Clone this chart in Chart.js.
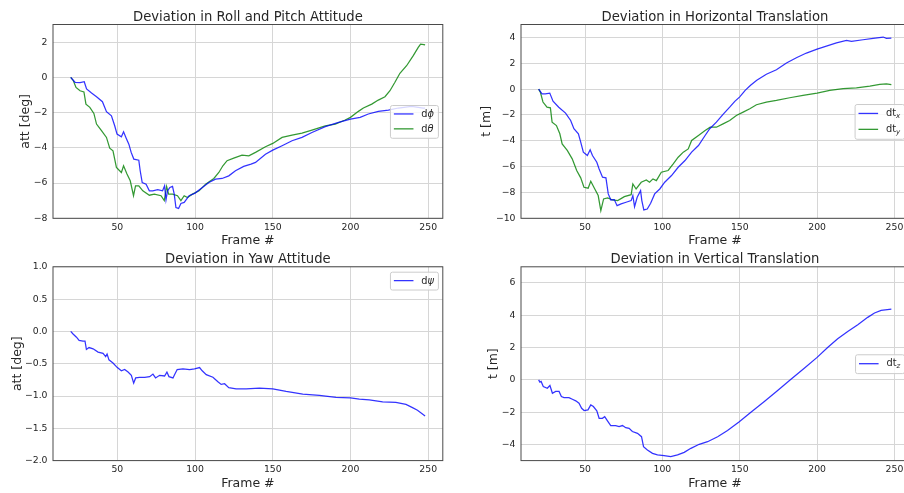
<!DOCTYPE html>
<html>
<head>
<meta charset="utf-8">
<script src="https://cdn.jsdelivr.net/npm/chart.js@4.4.1/dist/chart.umd.min.js"></script>
<style>
html,body{margin:0;padding:0;background:#fff;overflow:hidden;width:904px;height:493px;}
#wrap{position:relative;width:904px;height:493px;overflow:hidden;background:#fff;}
canvas{position:absolute;}
</style>
</head>
<body>
<div id="wrap">
<canvas id="c1" width="452" height="248" style="left:0px;top:0px"></canvas>
<canvas id="c2" width="470" height="248" style="left:452px;top:0px"></canvas>
<canvas id="c3" width="452" height="248" style="left:0px;top:245px"></canvas>
<canvas id="c4" width="470" height="248" style="left:452px;top:245px"></canvas>
</div>
<script>
// ---------- data ----------
const frameTicks = [50, 100, 150, 200, 250];
const rollPitchTicks = [-8, -6, -4, -2, 0, 2];
const horizTicks = [-10, -8, -6, -4, -2, 0, 2, 4];
const yawTicks = [-2.0, -1.5, -1.0, -0.5, 0.0, 0.5, 1.0];
const vertTicks = [-4, -2, 0, 2, 4, 6];

const rollFrames = [20,22.8,26,28.7,30.2,33.4,36.6,40.4,43,46.2,48.3,49.8,52.6,54,55.7,57.4,58.9,60.6,63.8,64.7,66,68.5,70.6,72.8,76,79.1,80.4,81.3,82.3,83.8,85.5,86.6,87.7,89.4,90.9,93,96.2,100,104.7,108.9,113.2,117.4,121.7,126,131.3,136,138.9,145.3,150,156,162.4,168.8,175.2,183.8,192.3,200,206.2,211.5,217.9,224.4,230.8,239.3,246.8,248];
const rollDev = [0,-0.28,-0.30,-0.25,-0.66,-0.89,-1.10,-1.38,-1.95,-2.18,-2.75,-3.22,-3.37,-3.09,-3.45,-3.79,-4.26,-4.64,-4.70,-5.30,-5.97,-6.06,-6.44,-6.44,-6.38,-6.44,-6.16,-6.95,-6.44,-6.25,-6.19,-6.63,-7.39,-7.44,-7.16,-7.10,-6.72,-6.57,-6.25,-5.97,-5.78,-5.74,-5.59,-5.30,-5.05,-4.92,-4.83,-4.36,-4.13,-3.88,-3.60,-3.41,-3.13,-2.80,-2.56,-2.37,-2.27,-2.08,-1.93,-1.86,-1.74,-1.65,-1.74,-1.75];

const pitchFrames = [20,21.7,23.4,26,28.5,29.8,32.3,34.9,36.6,39.8,43,45.1,47.2,49.4,52.6,54,56.2,58.3,60.4,61.7,63.8,66.4,70.6,73.8,78.1,80.2,81.7,83,85.5,88.7,90.9,93,95.1,98.3,102.6,106.8,112.1,115.3,117.9,120.6,124.9,130.2,134.6,138.9,145.3,150,156,162.4,168.8,175.2,183.8,190.2,196.6,200,205.1,208.3,213.7,217.9,222.2,225.4,228.6,231.8,236.1,240.4,243.6,245.1,247.2,248];
const pitchDev = [0,-0.19,-0.57,-0.76,-0.83,-1.52,-1.70,-2.05,-2.65,-3.03,-3.41,-4.02,-4.17,-5.11,-5.40,-5.02,-5.49,-5.87,-6.72,-6.16,-6.16,-6.44,-6.69,-6.63,-6.72,-7.00,-6.19,-6.63,-6.63,-6.72,-7.00,-6.72,-6.82,-6.63,-6.44,-6.06,-5.74,-5.40,-5.02,-4.73,-4.58,-4.41,-4.45,-4.26,-3.94,-3.75,-3.41,-3.28,-3.16,-2.99,-2.75,-2.65,-2.42,-2.27,-1.93,-1.74,-1.52,-1.29,-1.10,-0.76,-0.28,0.23,0.66,1.23,1.70,1.89,1.86,1.84];

const txFrames = [20,22.2,24.3,27.2,29.3,33,37.4,40.7,42.8,45.7,47.2,48.9,51.5,53.3,54.8,57.6,59.1,61.3,63.5,65,66.7,68.9,70.7,73.3,76.5,79.8,80.9,82,83.7,85.9,86.7,88,90.2,92.4,95,98.3,101.5,105.9,110.2,114.6,118.9,123.3,127.6,130.6,134.9,139.2,143.5,146.8,150,153.5,157,161,167.2,173.7,180.2,186.6,193.1,200,206,212.5,219,222.2,229.7,236.2,242.7,244.8,248];
const txDev = [0,-0.36,-0.36,-0.31,-0.93,-1.40,-1.86,-2.43,-3.07,-3.46,-4.10,-4.88,-5.14,-4.70,-5.14,-5.66,-6.18,-6.82,-6.87,-8.11,-8.58,-8.55,-9.02,-8.89,-8.76,-8.63,-8.24,-9.10,-8.37,-7.86,-8.63,-9.35,-9.28,-8.84,-8.11,-7.73,-7.21,-6.69,-6.05,-5.53,-4.88,-4.37,-3.59,-3.07,-2.56,-1.96,-1.40,-0.95,-0.60,-0.10,0.30,0.68,1.15,1.50,2.02,2.43,2.79,3.10,3.33,3.57,3.77,3.70,3.82,3.93,4.03,3.93,3.95];

const tyFrames = [20,21.1,22.8,25.4,27.6,28.7,31.5,33.7,35.2,38.5,41.7,44.6,47.2,49.3,52,53.7,56.3,58.5,60.2,62,64.6,67.8,71.1,75.4,79.8,80.9,83,86.3,89.6,91.7,93.9,96.1,99.3,103.7,107,110.2,113.5,116.7,118.9,123.3,127.6,130.9,134.9,139.2,143.5,147.8,152.2,156.5,160.8,167.2,173.7,182.3,190.9,200,208.2,216.8,225.4,234.1,240.5,244.8,248];
const tyDev = [0,-0.23,-1.00,-1.40,-1.45,-2.56,-2.82,-3.46,-4.24,-4.75,-5.40,-6.30,-6.87,-7.60,-7.67,-7.13,-7.73,-8.24,-9.40,-8.50,-8.42,-8.58,-8.63,-8.32,-8.17,-7.34,-7.73,-7.21,-7.03,-7.21,-6.95,-7.08,-6.43,-6.30,-5.79,-5.27,-4.88,-4.63,-3.98,-3.59,-3.20,-2.95,-2.95,-2.69,-2.43,-2.04,-1.78,-1.52,-1.21,-1.01,-0.88,-0.67,-0.49,-0.31,-0.10,0.03,0.10,0.23,0.36,0.41,0.34];

const yawFrames = [20,21.5,23.7,25.4,27.9,29.2,30.1,31.8,34.4,37.6,40.8,42.5,43.4,44.6,47.2,50,52.6,54.7,56.9,59,60.5,61.8,64.3,67.6,70.8,72.9,74.6,77.2,80.4,81.9,83.2,85.8,86.8,88.5,92.2,96.5,99.7,102.9,104.6,107.2,111.5,114.7,116.8,119,121.7,126.4,132.9,141.4,150,158.6,169.3,180,190.7,200,205.7,212.1,220.7,229.2,235.7,239.9,243.1,248];
const yawDev = [0,-0.04,-0.09,-0.14,-0.15,-0.15,-0.28,-0.25,-0.27,-0.32,-0.34,-0.39,-0.35,-0.44,-0.49,-0.56,-0.61,-0.59,-0.63,-0.68,-0.80,-0.72,-0.71,-0.71,-0.70,-0.66,-0.72,-0.68,-0.69,-0.63,-0.70,-0.72,-0.67,-0.59,-0.58,-0.59,-0.58,-0.56,-0.61,-0.67,-0.71,-0.78,-0.82,-0.81,-0.87,-0.89,-0.89,-0.88,-0.89,-0.93,-0.97,-0.99,-1.02,-1.03,-1.05,-1.06,-1.09,-1.10,-1.13,-1.18,-1.22,-1.31];

const tzFrames = [20,20.8,21.6,23,25.6,27.3,28.9,31,33.2,34.7,36.4,39.6,41.8,44,46.1,47.8,49.4,51.9,53.7,55.4,57.6,59.1,61.2,62.7,64.5,66.6,69.8,72,74.2,76.3,78.5,80.6,83.9,86.5,87.8,90.3,93.6,96.8,101.1,105.4,109.8,114.1,118.4,123.8,129.2,135.7,142.1,149.7,157.2,165.9,174.5,183.1,191.7,200,206.8,213.3,219.8,226.3,232.7,237.1,241.4,248];
const tzDev = [0,-0.14,-0.10,-0.41,-0.52,-0.35,-0.83,-0.72,-0.72,-1.03,-1.10,-1.10,-1.20,-1.30,-1.45,-1.76,-1.90,-1.86,-1.55,-1.65,-1.92,-2.38,-2.38,-2.28,-2.54,-2.83,-2.83,-2.90,-2.83,-2.96,-3.00,-3.20,-3.31,-3.52,-4.14,-4.34,-4.55,-4.65,-4.69,-4.76,-4.65,-4.49,-4.24,-3.99,-3.83,-3.52,-3.14,-2.59,-2.00,-1.34,-0.66,0.04,0.72,1.39,2.00,2.54,3.00,3.41,3.87,4.14,4.30,4.38];

// ---------- styling ----------
const FAM = "'DejaVu Sans', sans-serif";
const BLUE = 'rgba(0,0,255,0.8)';
const GREEN = 'rgba(0,128,0,0.8)';
const GRID = '#d6d6d6';
const SPINE = '#4a4a4a';
const TXT = '#262626';
const FRAME_MIN = 8.6, FRAME_MAX = 259.4;

Chart.defaults.font.family = FAM;

const minus = s => s.replace('-', '\u2212');

// axes title centred over the plotting area (like matplotlib's set_title)
const axesTitlePlugin = {
  id: 'axesTitle',
  afterDraw(chart, args, opts) {
    if (!opts || !opts.text) return;
    const {ctx, chartArea: a} = chart;
    ctx.save();
    ctx.font = `${opts.size}px ${FAM}`;
    ctx.fillStyle = TXT;
    ctx.textAlign = 'center';
    ctx.textBaseline = 'alphabetic';
    ctx.fillText(opts.text, (a.left + a.right) / 2, a.top - opts.gap);
    ctx.restore();
  }
};

const legendPlugin = {
  id: 'mplLegend',
  afterDatasetsDraw(chart, args, opts) {
    if (!opts || !opts.loc) return;
    const ctx = chart.ctx, ca = chart.chartArea;
    const f = opts.fontSize;
    const parse = (s) => {
      const parts = [];
      for (let i = 0; i < s.length; i++) {
        const ch = s[i];
        if (ch === '_') { parts.push({t: s[i + 1], k: 's'}); i++; }
        else if (/[\u0370-\u03FF]/.test(ch)) parts.push({t: ch, k: 'i'});
        else parts.push({t: ch, k: 'n'});
      }
      return parts;
    };
    const fontFor = k => k === 'n' ? `${f}px ${FAM}` : (k === 'i' ? `italic ${f}px ${FAM}` : `italic ${(f * 0.72).toFixed(2)}px ${FAM}`);
    ctx.save();
    const rows = chart.data.datasets.map(ds => {
      const parts = parse(ds.label);
      let w = 0;
      parts.forEach(p => { ctx.font = fontFor(p.k); p.w = ctx.measureText(p.t).width; w += p.w; });
      return {parts, w, color: ds.borderColor, sub: parts.some(p => p.k === 's')};
    });
    const rowH = rows.some(r => r.sub) ? opts.rowHSub : opts.rowH;
    const maxW = Math.max(...rows.map(r => r.w));
    const boxW = 0.4 * f + 2 * f + 0.8 * f + maxW + 0.4 * f;
    const boxH = 0.8 * f + rows.length * rowH + (rows.length - 1) * 0.5 * f;
    const x = ca.right - 0.5 * f - boxW;
    const y = opts.loc === 'upper right' ? ca.top + 0.5 * f : (ca.top + ca.bottom) / 2 - boxH / 2;
    ctx.beginPath();
    ctx.roundRect(x + 0.5, y + 0.5, boxW, boxH, 0.2 * f);
    ctx.fillStyle = 'rgba(255,255,255,0.8)';
    ctx.fill();
    ctx.strokeStyle = '#cccccc';
    ctx.lineWidth = 1;
    ctx.stroke();
    rows.forEach((r, i) => {
      const cy = y + 0.4 * f + rowH / 2 + i * (rowH + 0.5 * f);
      ctx.beginPath();
      ctx.strokeStyle = r.color;
      ctx.lineWidth = 1.3;
      ctx.moveTo(x + 0.4 * f, cy);
      ctx.lineTo(x + 2.4 * f, cy);
      ctx.stroke();
      let tx = x + 3.2 * f;
      const base = cy + 0.36 * f - (r.sub ? 0.1 * f : 0);
      ctx.fillStyle = TXT;
      ctx.textBaseline = 'alphabetic';
      ctx.textAlign = 'left';
      r.parts.forEach(p => {
        ctx.font = fontFor(p.k);
        ctx.fillText(p.t, tx, p.k === 's' ? base + 0.22 * f : base);
        tx += p.w;
      });
    });
    ctx.restore();
  }
};

const framePlugin = {
  id: 'axesFrame',
  afterDraw(chart) {
    const {ctx, chartArea: a} = chart;
    ctx.save();
    ctx.strokeStyle = SPINE;
    ctx.lineWidth = 1;
    ctx.strokeRect(a.left, a.top, a.right - a.left, a.bottom - a.top);
    ctx.restore();
  }
};

function makeChart(id, o) {
  return new Chart(document.getElementById(id), {
    type: 'line',
    data: {
      datasets: o.series.map(s => ({
        label: s.label,
        data: s.frames.map((fr, i) => ({x: fr, y: s.values[i]})),
        borderColor: s.color,
        borderWidth: 1.25,
        pointRadius: 0,
        tension: 0,
        fill: false
      }))
    },
    options: {
      responsive: false,
      animation: false,
      devicePixelRatio: 1,
      events: [],
      layout: {padding: {left: 0, top: o.padTop, right: o.padRight, bottom: 0}},
      plugins: {
        legend: {display: false},
        tooltip: {enabled: false},
        title: {display: false},
        axesTitle: {text: o.title, size: 13.2, gap: o.titleGap},
        mplLegend: {loc: o.legendLoc, fontSize: 9.8, rowH: 10, rowHSub: 11}
      },
      scales: {
        x: {
          type: 'linear', min: FRAME_MIN, max: FRAME_MAX,
          afterFit: s => { s.height = o.xH; },
          afterBuildTicks: s => { s.ticks = frameTicks.map(v => ({value: v})); },
          ticks: {autoSkip: false, maxRotation: 0, padding: 3.5, color: TXT, font: {size: 9.3}, callback: v => String(v)},
          grid: {color: GRID, lineWidth: 1, drawTicks: false},
          border: {display: false},
          title: {display: true, text: 'Frame #', color: TXT, font: {size: 12.5}, padding: {top: 0, bottom: o.xTitlePad}}
        },
        y: {
          type: 'linear', min: o.yMin, max: o.yMax,
          afterFit: s => { s.width = o.yW; },
          afterBuildTicks: s => { s.ticks = o.yTicks.map(v => ({value: v})); },
          ticks: {autoSkip: false, padding: 5.5, color: TXT, font: {size: 9.3}, callback: v => minus(v.toFixed(o.dec))},
          grid: {color: GRID, lineWidth: 1, drawTicks: false},
          border: {display: false},
          title: {display: true, text: o.yLabel, color: TXT, font: {size: 12.5}, padding: {top: o.yTitlePad, bottom: 0}}
        }
      }
    },
    plugins: [legendPlugin, framePlugin, axesTitlePlugin]
  });
}

makeChart('c1', {
  title: 'Deviation in Roll and Pitch Attitude', yLabel: 'att [deg]',
  series: [
    {label: 'dϕ', frames: rollFrames, values: rollDev, color: BLUE},
    {label: 'dθ', frames: pitchFrames, values: pitchDev, color: GREEN}
  ],
  yMin: -8, yMax: 3, yTicks: rollPitchTicks, dec: 0,
  padTop: 24.5, padRight: 9.2, yW: 53, xH: 29.7, titleGap: 3.8,
  yTitlePad: 18.5, xTitlePad: 0, legendLoc: 'center right'
});

makeChart('c2', {
  title: 'Deviation in Horizontal Translation', yLabel: 't [m]',
  series: [
    {label: 'dt_x', frames: txFrames, values: txDev, color: BLUE},
    {label: 'dt_y', frames: tyFrames, values: tyDev, color: GREEN}
  ],
  yMin: -10, yMax: 5, yTicks: horizTicks, dec: 0,
  padTop: 24.5, padRight: 13, yW: 69, xH: 29.7, titleGap: 3.8,
  yTitlePad: 27.5, xTitlePad: 0, legendLoc: 'center right'
});

makeChart('c3', {
  title: 'Deviation in Yaw Attitude', yLabel: 'att [deg]',
  series: [
    {label: 'dψ', frames: yawFrames, values: yawDev, color: BLUE}
  ],
  yMin: -2, yMax: 1, yTicks: yawTicks, dec: 1,
  padTop: 21.8, padRight: 9.2, yW: 53, xH: 32.4, titleGap: 3.5,
  yTitlePad: 10, xTitlePad: 2, legendLoc: 'upper right'
});

makeChart('c4', {
  title: 'Deviation in Vertical Translation', yLabel: 't [m]',
  series: [
    {label: 'dt_z', frames: tzFrames, values: tzDev, color: BLUE}
  ],
  yMin: -5, yMax: 7, yTicks: vertTicks, dec: 0,
  padTop: 21.8, padRight: 13, yW: 69, xH: 32.4, titleGap: 3.5,
  yTitlePad: 34, xTitlePad: 2, legendLoc: 'center right'
});
</script>
</body>
</html>
